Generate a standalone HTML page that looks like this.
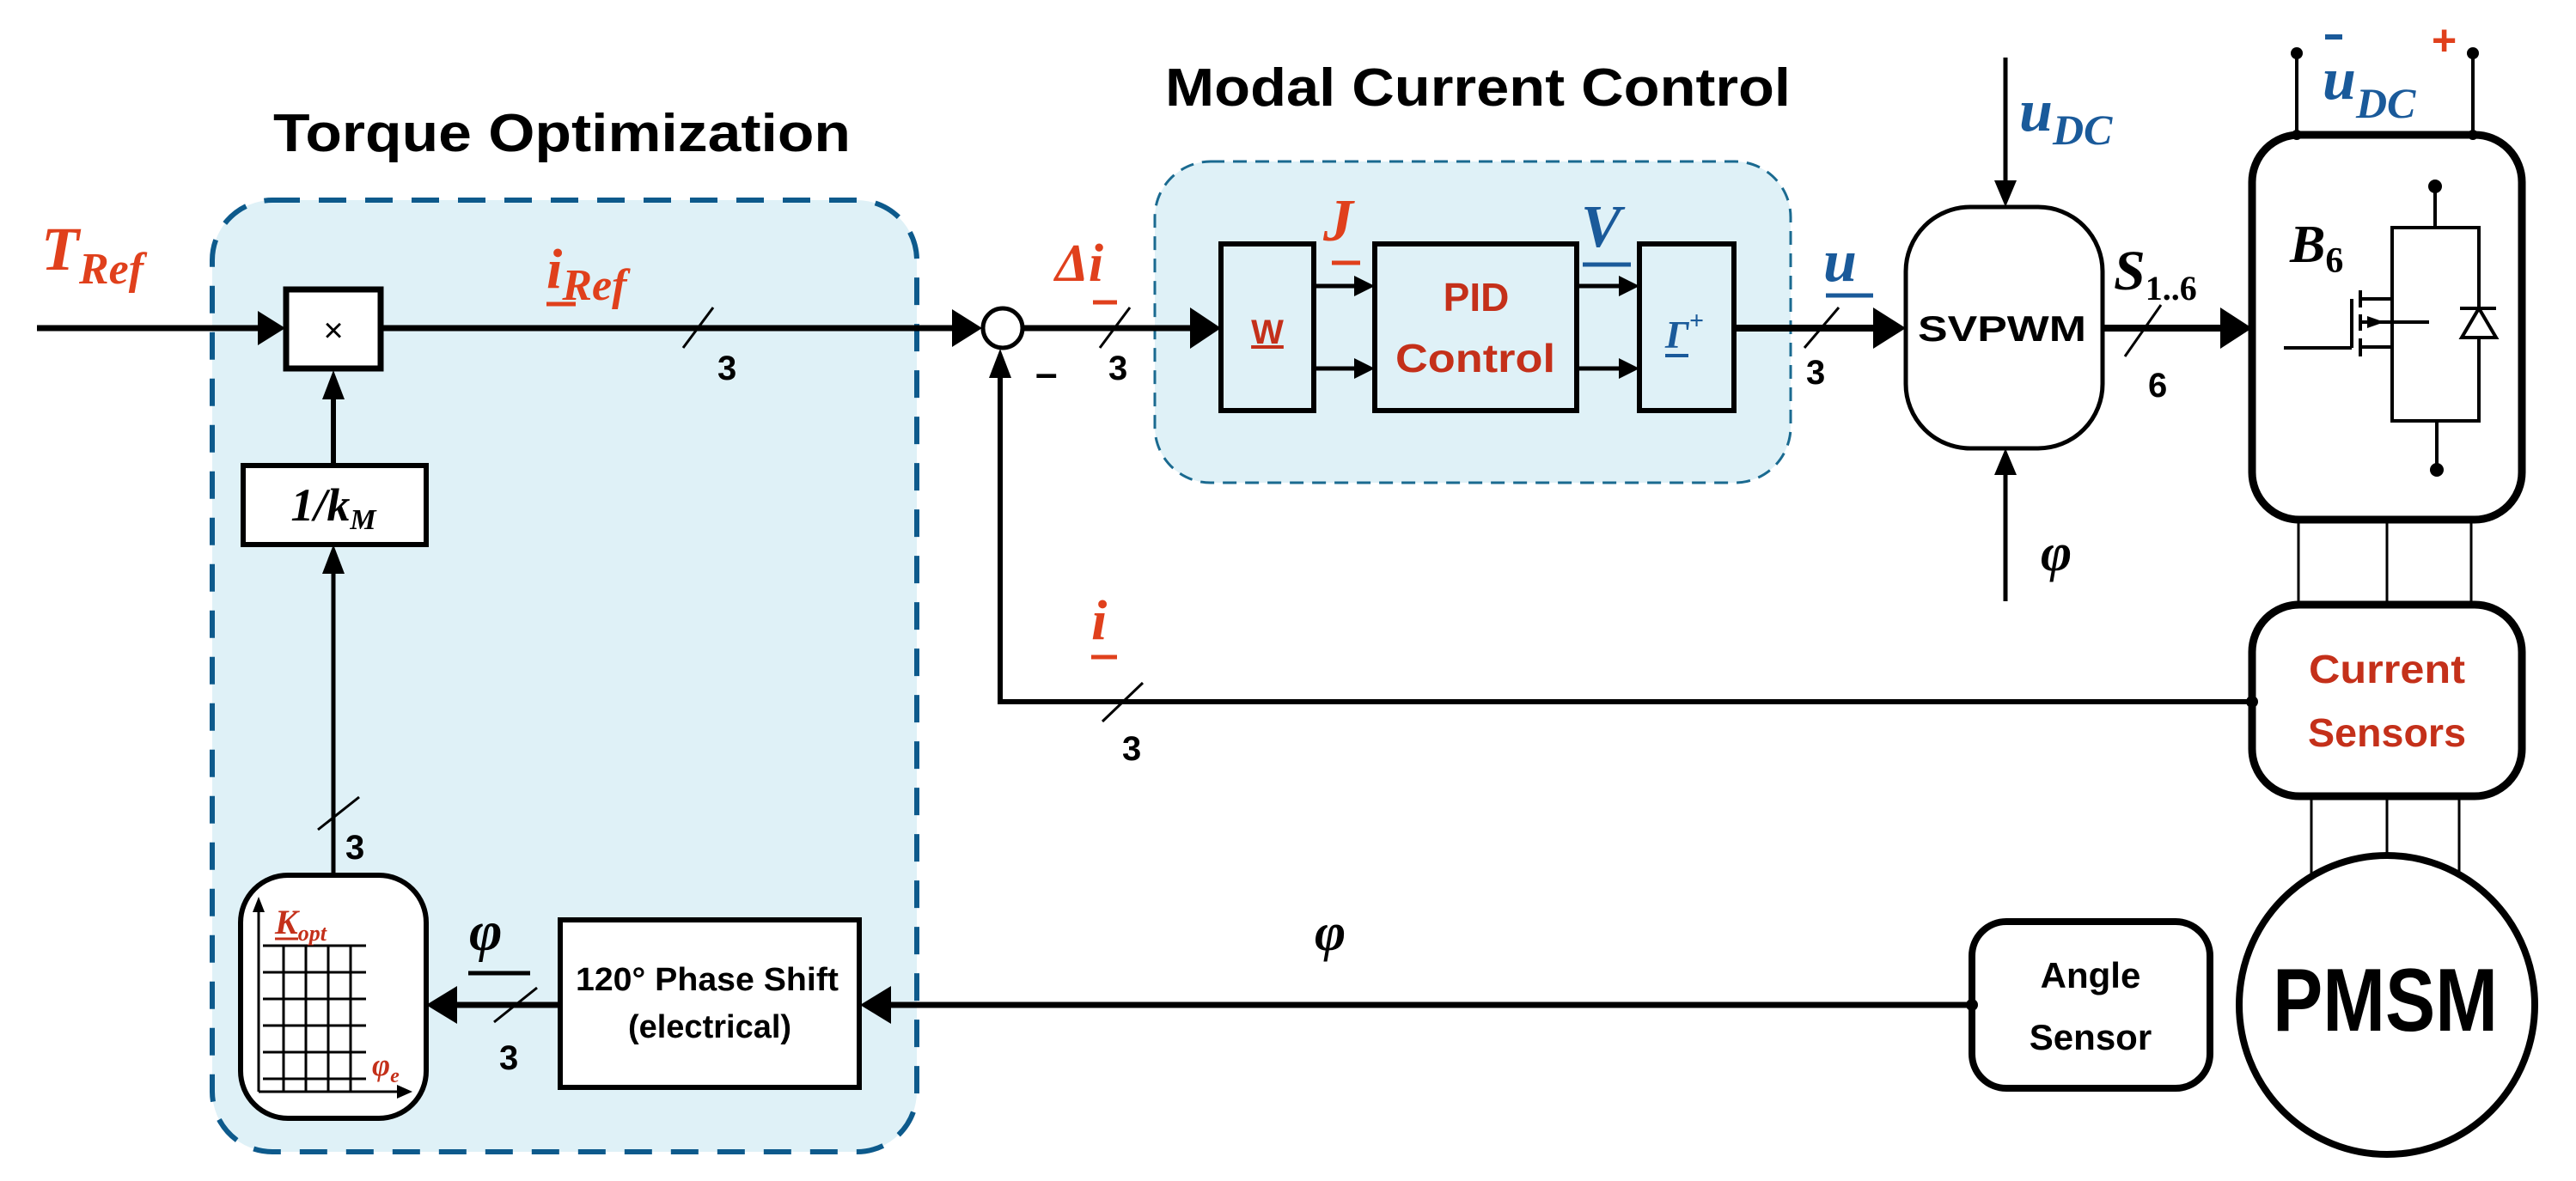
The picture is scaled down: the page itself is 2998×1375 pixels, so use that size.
<!DOCTYPE html>
<html><head><meta charset="utf-8"><style>
html,body{margin:0;padding:0;background:#fff;}
svg{display:block}
.t{font-family:"Liberation Sans",sans-serif;font-weight:bold}
.m{font-family:"Liberation Serif",serif;font-style:italic;font-weight:bold}
.n{font-family:"Liberation Sans",sans-serif}
</style></head><body>
<svg width="2998" height="1375" viewBox="0 0 2998 1375" xmlns="http://www.w3.org/2000/svg">
<rect x="247" y="233" width="820" height="1108" rx="70" fill="#dff1f7" stroke="#0d5a8c" stroke-width="6" stroke-dasharray="32,22"/>
<rect x="1344" y="188" width="740" height="374" rx="65" fill="#dff1f7" stroke="#1a6a90" stroke-width="3" stroke-dasharray="16,10"/>
<text class="t" x="318" y="176" font-size="62" textLength="672" lengthAdjust="spacingAndGlyphs">Torque Optimization</text>
<text class="t" x="1356" y="123" font-size="62" textLength="728" lengthAdjust="spacingAndGlyphs">Modal Current Control</text>

<g stroke="#000" fill="none">
<line x1="43" y1="382" x2="325" y2="382" stroke-width="7"/>
<path d="M300,362 L332,382 L300,402 z" fill="#000" stroke="none"/>
<line x1="443" y1="382" x2="1115" y2="382" stroke-width="7"/>
<path d="M1108,360 L1143,382 L1108,404 z" fill="#000" stroke="none"/>
<circle cx="1167" cy="382" r="23" fill="#fff" stroke-width="5"/>
<line x1="1190" y1="382" x2="1395" y2="382" stroke-width="7"/>
<path d="M1385,358 L1421,382 L1385,406 z" fill="#000" stroke="none"/>
<rect x="333" y="337" width="110" height="92" fill="#fff" stroke-width="7"/>
<rect x="283" y="542" width="213" height="92" fill="#fff" stroke-width="6"/>
<line x1="388" y1="541" x2="388" y2="460" stroke-width="6"/>
<path d="M375,465 L388,431 L401,465 z" fill="#000" stroke="none"/>
<line x1="388" y1="1019" x2="388" y2="665" stroke-width="5"/>
<path d="M375,668 L388,634 L401,668 z" fill="#000" stroke="none"/>
<rect x="280" y="1019" width="216" height="283" rx="55" fill="#fff" stroke-width="6"/>
<g stroke-width="3">
<line x1="306" y1="1101" x2="426" y2="1101"/><line x1="306" y1="1132" x2="426" y2="1132"/><line x1="306" y1="1163" x2="426" y2="1163"/><line x1="306" y1="1194" x2="426" y2="1194"/><line x1="306" y1="1225" x2="426" y2="1225"/><line x1="306" y1="1256" x2="426" y2="1256"/>
<line x1="330" y1="1101" x2="330" y2="1271"/><line x1="356" y1="1101" x2="356" y2="1271"/><line x1="382" y1="1101" x2="382" y2="1271"/><line x1="408" y1="1101" x2="408" y2="1271"/>
<line x1="301" y1="1271" x2="470" y2="1271"/><line x1="301" y1="1271" x2="301" y2="1055"/>
</g>
<path d="M294,1062 L301,1044 L308,1062 z" fill="#000" stroke="none"/>
<path d="M462,1263 L480,1271 L462,1279 z" fill="#000" stroke="none"/>
<rect x="652" y="1071" width="348" height="195" fill="#fff" stroke-width="6"/>
<line x1="651" y1="1170" x2="525" y2="1170" stroke-width="7"/>
<path d="M532,1148 L496,1170 L532,1192 z" fill="#000" stroke="none"/>
<line x1="2294" y1="1170" x2="1030" y2="1170" stroke-width="7"/>
<path d="M1037,1148 L1001,1170 L1037,1192 z" fill="#000" stroke="none"/>
<polyline points="2620,817 1164,817 1164,430" stroke-width="6"/>
<path d="M1151,440 L1164,406 L1177,440 z" fill="#000" stroke="none"/>
<rect x="1421" y="284" width="108" height="194" fill="#dff1f7" stroke-width="6"/>
<rect x="1600" y="284" width="235" height="194" fill="#dff1f7" stroke-width="6"/>
<rect x="1908" y="284" width="110" height="194" fill="#dff1f7" stroke-width="6"/>
<g stroke-width="5">
<line x1="1529" y1="333" x2="1580" y2="333"/><line x1="1529" y1="429" x2="1580" y2="429"/>
<line x1="1835" y1="333" x2="1888" y2="333"/><line x1="1835" y1="429" x2="1888" y2="429"/>
</g>
<path d="M1576,321 L1600,333 L1576,345 z M1576,417 L1600,429 L1576,441 z M1884,321 L1908,333 L1884,345 z M1884,417 L1908,429 L1884,441 z" fill="#000" stroke="none"/>
<line x1="2018" y1="382" x2="2185" y2="382" stroke-width="8"/>
<path d="M2180,358 L2218,382 L2180,406 z" fill="#000" stroke="none"/>
<rect x="2218" y="241" width="229" height="281" rx="75" fill="#fff" stroke-width="5"/>
<line x1="2334" y1="67" x2="2334" y2="215" stroke-width="5"/>
<path d="M2321,210 L2334,241 L2347,210 z" fill="#000" stroke="none"/>
<line x1="2334" y1="700" x2="2334" y2="550" stroke-width="5"/>
<path d="M2321,553 L2334,522 L2347,553 z" fill="#000" stroke="none"/>
<line x1="2447" y1="382" x2="2590" y2="382" stroke-width="8"/>
<path d="M2584,358 L2621,382 L2584,406 z" fill="#000" stroke="none"/>
<rect x="2621" y="157" width="314" height="448" rx="55" fill="#fff" stroke-width="9"/>
<line x1="2673" y1="62" x2="2673" y2="157" stroke-width="4"/>
<line x1="2878" y1="62" x2="2878" y2="157" stroke-width="4"/>
<g stroke-width="4">
<line x1="2834" y1="217" x2="2834" y2="265"/>
<rect x="2784" y="265" width="101" height="225"/>
<line x1="2836" y1="490" x2="2836" y2="547"/>
<line x1="2737" y1="348" x2="2737" y2="405"/>
<line x1="2658" y1="405" x2="2737" y2="405"/>
<line x1="2747" y1="338" x2="2747" y2="358"/><line x1="2747" y1="366" x2="2747" y2="385"/><line x1="2747" y1="394" x2="2747" y2="415"/>
<line x1="2747" y1="348" x2="2784" y2="348"/><line x1="2747" y1="404" x2="2784" y2="404"/>
<line x1="2747" y1="375" x2="2827" y2="375"/>
<line x1="2863" y1="359" x2="2905" y2="359"/>
<path d="M2865,393 L2905,393 L2885,359 z" fill="#fff"/>
</g>
<path d="M2755,368 L2775,375 L2755,382 z" fill="#000" stroke="none"/>
<g stroke-width="3">
<line x1="2675" y1="605" x2="2675" y2="704"/><line x1="2778" y1="605" x2="2778" y2="704"/><line x1="2876" y1="605" x2="2876" y2="704"/>
<line x1="2690" y1="927" x2="2690" y2="1030"/><line x1="2778" y1="927" x2="2778" y2="997"/><line x1="2862" y1="927" x2="2862" y2="1030"/>
</g>
<rect x="2621" y="704" width="314" height="223" rx="55" fill="#fff" stroke-width="9"/>
<ellipse cx="2778" cy="1170" rx="172" ry="174" fill="#fff" stroke-width="8"/>
<rect x="2295" y="1073" width="277" height="194" rx="40" fill="#fff" stroke-width="8"/>
<g stroke-width="3">
<line x1="795" y1="405" x2="830" y2="358"/>
<line x1="1280" y1="405" x2="1315" y2="358"/>
<line x1="2100" y1="405" x2="2140" y2="358"/>
<line x1="2473" y1="415" x2="2515" y2="355"/>
<line x1="1283" y1="840" x2="1330" y2="795"/>
<line x1="370" y1="966" x2="418" y2="928"/>
<line x1="575" y1="1190" x2="625" y2="1150"/>
</g>
</g>
<g fill="#000">
<circle cx="2673" cy="62" r="7"/><circle cx="2878" cy="62" r="7"/>
<circle cx="2673" cy="157" r="6"/><circle cx="2878" cy="157" r="6"/>
<circle cx="2834" cy="217" r="8"/><circle cx="2836" cy="547" r="8"/>
<circle cx="2621" cy="817" r="7"/><circle cx="2295" cy="1170" r="7"/>
</g>
<text class="n" x="388" y="398" font-size="40" text-anchor="middle">×</text>
<text class="m" x="388" y="606" font-size="54" text-anchor="middle" font-style="normal">1/<tspan font-style="italic">k</tspan><tspan font-size="34" dy="10" font-style="italic">M</tspan></text>
<text class="t" x="670" y="1153" font-size="38" textLength="306" lengthAdjust="spacingAndGlyphs">120° Phase Shift</text>
<text class="t" x="826" y="1208" font-size="38" text-anchor="middle">(electrical)</text>
<text class="t" x="1475" y="400" font-size="40" fill="#c4301a" text-anchor="middle" text-decoration="underline">W</text>
<text class="t" x="1718" y="362" font-size="46" fill="#c4301a" text-anchor="middle">PID</text>
<text class="t" x="1624" y="433" font-size="46" fill="#c4301a" textLength="186" lengthAdjust="spacingAndGlyphs">Control</text>
<text class="m" x="1938" y="405" font-size="46" fill="#1a5a9a" font-style="normal">Γ<tspan font-size="30" dy="-22">+</tspan></text>
<line x1="1938" y1="414" x2="1965" y2="414" stroke="#1a5a9a" stroke-width="4"/>
<text class="t" x="2232" y="397" font-size="42" textLength="196" lengthAdjust="spacingAndGlyphs">SVPWM</text>
<text class="t" x="2687" y="795" font-size="46" fill="#c4301a" textLength="182" lengthAdjust="spacingAndGlyphs">Current</text>
<text class="t" x="2686" y="869" font-size="46" fill="#c4301a" textLength="184" lengthAdjust="spacingAndGlyphs">Sensors</text>
<text class="t" x="2433" y="1150" font-size="42" text-anchor="middle">Angle</text>
<text class="t" x="2433" y="1222" font-size="42" text-anchor="middle">Sensor</text>
<text class="t" x="2645" y="1200" font-size="104" textLength="262" lengthAdjust="spacingAndGlyphs">PMSM</text>
<g class="t" font-size="40">
<text x="835" y="442">3</text><text x="1290" y="442">3</text><text x="2102" y="447">3</text>
<text x="2500" y="462">6</text><text x="1306" y="885">3</text><text x="402" y="1000">3</text><text x="581" y="1245">3</text>
</g>
<text class="t" x="1205" y="450" font-size="46">–</text>
<text class="m" x="48" y="314" font-size="72" fill="#e0401c">T<tspan font-size="52" dy="16">Ref</tspan></text>
<text class="m" x="636" y="335" font-size="66" fill="#e0401c">i<tspan font-size="52" dy="14">Ref</tspan></text>
<line x1="636" y1="354" x2="670" y2="354" stroke="#e0401c" stroke-width="5"/>
<text class="m" x="1228" y="327" font-size="62" fill="#e0401c" font-style="normal">Δ<tspan font-style="italic">i</tspan></text>
<line x1="1272" y1="352" x2="1300" y2="352" stroke="#e0401c" stroke-width="5"/>
<text class="m" x="1540" y="280" font-size="70" fill="#e0401c">J</text>
<line x1="1550" y1="306" x2="1583" y2="306" stroke="#e0401c" stroke-width="5"/>
<text class="m" x="1840" y="287" font-size="70" fill="#1a5a9a">V</text>
<line x1="1842" y1="308" x2="1898" y2="308" stroke="#1a5a9a" stroke-width="5"/>
<text class="m" x="2122" y="327" font-size="70" fill="#1a5a9a">u</text>
<line x1="2125" y1="344" x2="2180" y2="344" stroke="#1a5a9a" stroke-width="5"/>
<text class="m" x="2350" y="152" font-size="70" fill="#1a5a9a">u<tspan font-size="50" dy="16">DC</tspan></text>
<text class="m" x="2460" y="337" font-size="66">S<tspan font-size="40" dy="12" font-style="normal">1..6</tspan></text>
<text class="m" x="2703" y="115" font-size="70" fill="#1a5a9a">u<tspan font-size="50" dy="22">DC</tspan></text>
<rect x="2706" y="40" width="20" height="6" fill="#1a5a9a"/>
<text class="t" x="2830" y="64" font-size="50" fill="#e0401c">+</text>
<text class="m" x="2665" y="305" font-size="62">B<tspan font-size="42" dy="12" font-style="normal">6</tspan></text>
<text class="m" x="2375" y="664" font-size="62">φ</text>
<text class="m" x="1270" y="744" font-size="66" fill="#e0401c">i</text>
<line x1="1270" y1="765" x2="1300" y2="765" stroke="#e0401c" stroke-width="5"/>
<text class="m" x="1530" y="1106" font-size="62">φ</text>
<text class="m" x="546" y="1106" font-size="66">φ</text>
<line x1="545" y1="1133" x2="617" y2="1133" stroke="#000" stroke-width="5"/>
<text class="m" x="320" y="1087" font-size="40" fill="#c4301a">K<tspan font-size="26" dy="8">opt</tspan></text>
<line x1="320" y1="1093" x2="347" y2="1093" stroke="#c4301a" stroke-width="3"/>
<text class="m" x="433" y="1252" font-size="36" fill="#c4301a">φ<tspan font-size="24" dy="8">e</tspan></text>
</svg>
</body></html>
